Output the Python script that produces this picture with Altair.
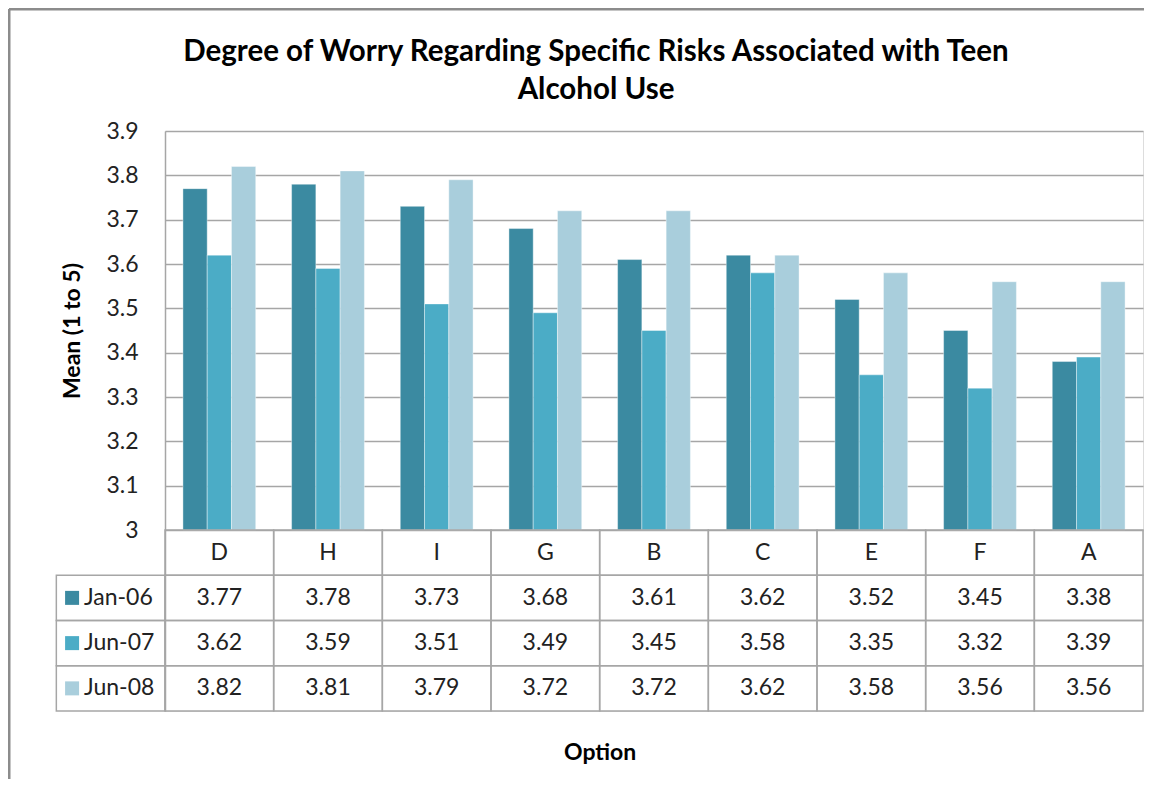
import altair as alt
import pandas as pd

categories = ["D", "H", "I", "G", "B", "C", "E", "F", "A"]
series = ["Jan-06", "Jun-07", "Jun-08"]
jan06 = [3.77, 3.78, 3.73, 3.68, 3.61, 3.62, 3.52, 3.45, 3.38]
jun07 = [3.62, 3.59, 3.51, 3.49, 3.45, 3.58, 3.35, 3.32, 3.39]
jun08 = [3.82, 3.81, 3.79, 3.72, 3.72, 3.62, 3.58, 3.56, 3.56]
y_ticks = [3.0, 3.1, 3.2, 3.3, 3.4, 3.5, 3.6, 3.7, 3.8, 3.9]
colors = ["#3B8AA1", "#4BACC6", "#A9CEDC"]
title_text = "Degree of Worry Regarding Specific Risks Associated with Teen\nAlcohol Use"

FONT = "Lato"
GRID = "#A6A6A6"
TXT = "#222222"
W = 978          # plot width
PLOT_H = 399     # bar area height
H = 580          # bar area + data table
LEG = "_legend"
rows = ["hdr"] + series
y_min = 3 - 0.9 * (H - PLOT_H) / PLOT_H

vals = {"Jan-06": jan06, "Jun-07": jun07, "Jun-08": jun08}
bars_df = pd.DataFrame(
    [{"category": c, "series": s, "value": vals[s][i]}
     for s in series for i, c in enumerate(categories)]
)

cells = []
for c in categories:
    cells.append({"row": "hdr", "col": c, "label": c})
for s in series:
    cells.append({"row": s, "col": LEG, "label": ""})
    for i, c in enumerate(categories):
        cells.append({"row": s, "col": c, "label": f"{vals[s][i]:.2f}"})
cells_df = pd.DataFrame(cells)
legend_df = pd.DataFrame([{"row": s, "col": LEG, "series": s} for s in series])

color_enc = alt.Color("series:N", sort=series,
                      scale=alt.Scale(domain=series, range=colors), legend=None)

bars = alt.Chart(bars_df).mark_bar(stroke="white", strokeWidth=0.5, strokeOpacity=0.8).encode(
    x=alt.X("category:N", sort=categories, axis=None,
            scale=alt.Scale(domain=categories, paddingInner=0.33, paddingOuter=0.165)),
    xOffset=alt.XOffset("series:N", sort=series,
                        scale=alt.Scale(domain=series, paddingInner=0, paddingOuter=0)),
    y=alt.Y("value:Q",
            scale=alt.Scale(domain=[y_min, 3.9], nice=False, zero=False),
            axis=alt.Axis(values=y_ticks, format=".1~f", title="Mean (1 to 5)",
                          ticks=False, labelPadding=27, labelFont=FONT, labelFontSize=23,
                          labelColor=TXT, domainColor=GRID, domainWidth=1.5,
                          gridColor=GRID, gridWidth=1.5,
                          titleFont=FONT, titleFontSize=23, titleFontWeight="bold",
                          titleColor="black", titleX=-93, titleY=PLOT_H / 2,
                          titleAngle=270, titleAlign="center", titleBaseline="middle")),
    y2=alt.datum(3),
    color=color_enc,
)


def xt(band=0.5):
    return alt.X("col:N", sort=[LEG] + categories, bandPosition=band,
                 scale=alt.Scale(domain=[LEG] + categories, range=[-W / 9, W],
                                 paddingInner=0, paddingOuter=0),
                 axis=alt.Axis(title="Option", labels=False, ticks=False, domain=False,
                               grid=False, titlePadding=30, titleFont=FONT,
                               titleFontSize=23, titleFontWeight="bold", titleColor="black"))


yt = alt.Y("row:N", sort=rows,
           scale=alt.Scale(domain=rows, range=[PLOT_H, H], paddingInner=0, paddingOuter=0),
           axis=None)

cell_rects = alt.Chart(cells_df).mark_rect(
    stroke=GRID, strokeWidth=1.5, fill="white", fillOpacity=0
).encode(x=xt(), y=yt)

cell_text = alt.Chart(cells_df).mark_text(
    font=FONT, fontSize=23, color=TXT
).encode(x=xt(), y=yt, text="label:N")

keys = alt.Chart(legend_df).mark_square(size=196, opacity=1).encode(
    x=xt(0.145), y=yt, color=color_enc)

key_text = alt.Chart(legend_df).mark_text(
    font=FONT, fontSize=23, color=TXT, align="left"
).encode(x=xt(0.255), y=yt, text="series:N")

table = alt.layer(cell_rects, cell_text, keys, key_text)

one = pd.DataFrame({"a": [0]})
border_top = alt.Chart(one).mark_rule(stroke="#8C8C8C", strokeWidth=3).encode(
    x=alt.value(-156), x2=alt.value(W + 60), y=alt.value(-122))
border_left = alt.Chart(one).mark_rule(stroke="#8C8C8C", strokeWidth=3).encode(
    x=alt.value(-156), y=alt.value(-122), y2=alt.value(H + 120))

title = alt.Chart(one).mark_text(
    text=title_text, lineBreak="\n", font=FONT, fontSize=29.5, fontWeight="bold",
    color="black", lineHeight=38, align="center", baseline="middle"
).encode(x=alt.value(431), y=alt.value(-79))

chart = alt.layer(bars, table, border_top, border_left, title).resolve_scale(
    x="independent", y="independent"
).properties(
    width=W, height=H,
    autosize=alt.AutoSizeParams(type="none"),
    padding={"left": 157, "top": 123, "right": 1, "bottom": 68},
).configure_view(stroke=None).configure(background="white")

chart.save("out.html", embed_options={"renderer": "svg", "actions": False})
